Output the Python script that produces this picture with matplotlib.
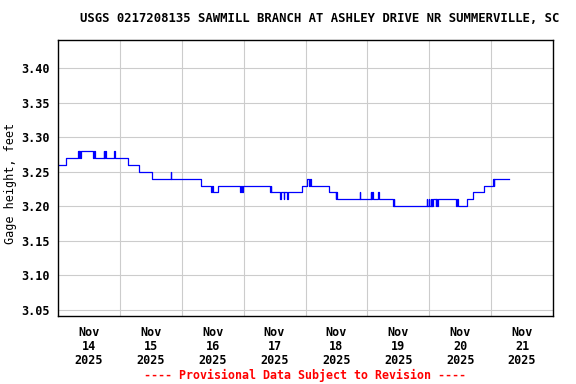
import matplotlib
matplotlib.use("Agg")
import matplotlib.pyplot as plt
import pandas as pd

# step changes in gage height (value holds until next time)
times = [
    "2025-11-14 00:00", "2025-11-14 03:15", "2025-11-14 07:45", "2025-11-14 08:00",
    "2025-11-14 08:15", "2025-11-14 08:30", "2025-11-14 09:00", "2025-11-14 13:45",
    "2025-11-14 14:00", "2025-11-14 14:15", "2025-11-14 17:45", "2025-11-14 18:00",
    "2025-11-14 18:15", "2025-11-14 18:30", "2025-11-14 21:45", "2025-11-14 22:00",
    "2025-11-15 03:00", "2025-11-15 07:15", "2025-11-15 12:30", "2025-11-15 19:45",
    "2025-11-15 20:00", "2025-11-16 07:30", "2025-11-16 11:30", "2025-11-16 11:45",
    "2025-11-16 12:00", "2025-11-16 14:15", "2025-11-16 22:45", "2025-11-16 23:00",
    "2025-11-16 23:30", "2025-11-16 23:45", "2025-11-17 10:15", "2025-11-17 10:30",
    "2025-11-17 10:45", "2025-11-17 14:15", "2025-11-17 14:30", "2025-11-17 15:30",
    "2025-11-17 15:45", "2025-11-17 16:45", "2025-11-17 17:15", "2025-11-17 22:30",
    "2025-11-18 00:30", "2025-11-18 01:30", "2025-11-18 01:45", "2025-11-18 02:15",
    "2025-11-18 09:15", "2025-11-18 11:45", "2025-11-18 12:00", "2025-11-18 12:15",
    "2025-11-18 21:00", "2025-11-18 21:15", "2025-11-19 01:15", "2025-11-19 01:30",
    "2025-11-19 01:45", "2025-11-19 02:00", "2025-11-19 04:15", "2025-11-19 04:30",
    "2025-11-19 10:00", "2025-11-19 10:15", "2025-11-19 10:30", "2025-11-19 23:00",
    "2025-11-19 23:15", "2025-11-19 23:45", "2025-11-20 00:00", "2025-11-20 00:30",
    "2025-11-20 00:45", "2025-11-20 01:00", "2025-11-20 01:15", "2025-11-20 01:30",
    "2025-11-20 02:30", "2025-11-20 02:45", "2025-11-20 03:00", "2025-11-20 03:30",
    "2025-11-20 10:30", "2025-11-20 10:45", "2025-11-20 11:00", "2025-11-20 14:45",
    "2025-11-20 17:00", "2025-11-20 21:15", "2025-11-21 00:45", "2025-11-21 01:00",
    "2025-11-21 01:15", "2025-11-21 07:00",
]
heights = [
    3.26, 3.27, 3.28, 3.27,
    3.28, 3.27, 3.28, 3.27,
    3.28, 3.27, 3.28, 3.27,
    3.28, 3.27, 3.28, 3.27,
    3.26, 3.25, 3.24, 3.25,
    3.24, 3.23, 3.22, 3.23,
    3.22, 3.23, 3.22, 3.23,
    3.22, 3.23, 3.22, 3.23,
    3.22, 3.21, 3.22, 3.21,
    3.22, 3.21, 3.22, 3.23,
    3.24, 3.23, 3.24, 3.23,
    3.22, 3.21, 3.22, 3.21,
    3.22, 3.21, 3.22, 3.21,
    3.22, 3.21, 3.22, 3.21,
    3.20, 3.21, 3.20, 3.21,
    3.20, 3.21, 3.20, 3.21,
    3.20, 3.21, 3.20, 3.21,
    3.20, 3.21, 3.20, 3.21,
    3.20, 3.21, 3.20, 3.21,
    3.22, 3.23, 3.24, 3.23,
    3.24, 3.24,
]
yticks = [3.05, 3.10, 3.15, 3.20, 3.25, 3.30, 3.35, 3.40]
days = ["14", "15", "16", "17", "18", "19", "20", "21"]

t = pd.to_datetime(times)

plt.rcParams["font.family"] = "DejaVu Sans Mono"
plt.rcParams["font.weight"] = "bold"

fig = plt.figure(figsize=(5.76, 3.84), dpi=100)
ax = fig.add_axes([58 / 576, 1 - 316 / 384, 495 / 576, 276 / 384])

ax.plot(t, heights, drawstyle="steps-post", color="#0000ff", lw=0.9)

start = pd.Timestamp("2025-11-14")
ax.set_xlim(start, start + pd.Timedelta(days=8))
ax.set_ylim(3.0413, 3.4405)

ax.set_yticks(yticks)
ax.set_yticklabels([f"{v:.2f}" for v in yticks])

noons = [start + pd.Timedelta(days=i, hours=12) for i in range(len(days))]
ax.set_xticks(noons)
ax.set_xticklabels([f"Nov\n{d}\n2025" for d in days], linespacing=1.1)
mids = [start + pd.Timedelta(days=i) for i in range(1, 8)]
ax.set_xticks(mids, minor=True)

ax.grid(True, which="minor", axis="x", color="#cccccc", lw=0.8)
ax.grid(True, which="major", axis="y", color="#cccccc", lw=0.8)
ax.set_axisbelow(True)
ax.tick_params(axis="both", which="both", length=0, labelsize=8.5)
ax.tick_params(axis="x", pad=7)
ax.tick_params(axis="y", pad=6)
for s in ax.spines.values():
    s.set_linewidth(1.0)

ax.set_ylabel("Gage height, feet", fontsize=8.5)
ax.yaxis.set_label_coords(-0.083, 0.48)
fig.text(320 / 576, 1 - 19 / 384, "USGS 0217208135 SAWMILL BRANCH AT ASHLEY DRIVE NR SUMMERVILLE, SC",
         ha="center", va="center", fontsize=8.8)
fig.text(305 / 576, 1 - 375 / 384, "---- Provisional Data Subject to Revision ----",
         ha="center", va="center", fontsize=8.4, color="#ff0000")

fig.savefig("out.png", dpi=100)
